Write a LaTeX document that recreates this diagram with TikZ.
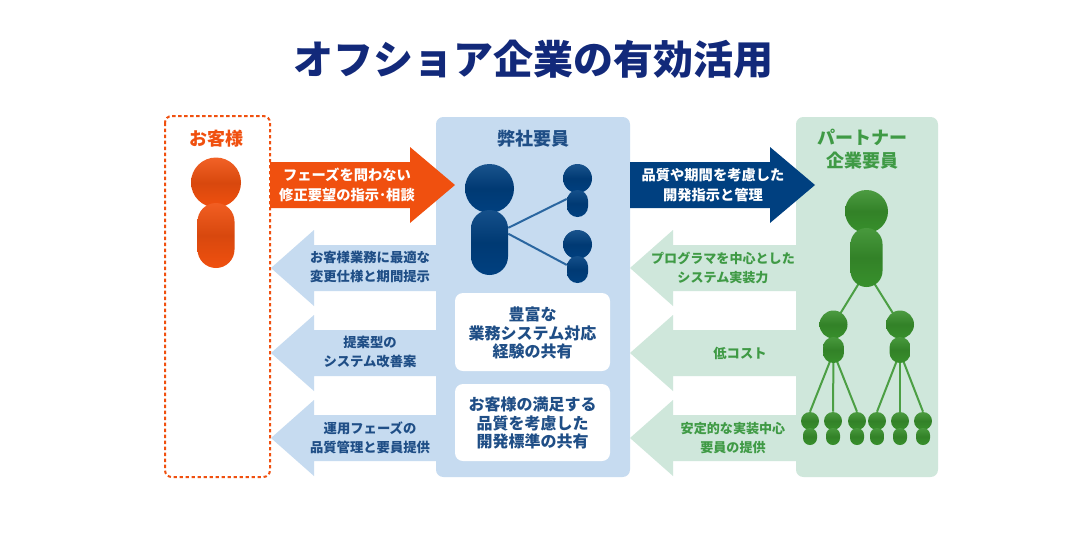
\documentclass[tikz,border=0pt]{standalone}
\usepackage{fontspec}
\setmainfont{Noto Sans CJK JP}
\usetikzlibrary{positioning}
\definecolor{orangemain}{HTML}{F0500F}
\definecolor{navymain}{HTML}{004080}
\definecolor{navytext}{HTML}{1F4E86}
\definecolor{navylink}{HTML}{2A66A0}
\definecolor{greenmain}{HTML}{38902C}
\definecolor{greenlink}{HTML}{4C9F44}
\definecolor{greentext}{HTML}{3F9A45}
\definecolor{bluepanel}{HTML}{C6DBF0}
\definecolor{greenpanel}{HTML}{CFE7DB}
\definecolor{titlecol}{HTML}{12297A}
\pgfdeclarelayer{back}
\pgfsetlayers{back,main}
\tikzset{
  panel/.style={fill=#1,rounded corners=5.5pt},
  whitebox/.style={fill=white,rounded corners=6pt},
  link/.style={draw=#1,line width=1.5pt},
  lab/.style={align=center,font=\bfseries\fontsize{#1}{14pt}\selectfont,inner sep=0pt},
}
% name, x, head y, head size, body width, body y, body height, colour
\newcommand{\person}[8]{%
  \node[circle,inner sep=0pt,minimum size=#4*0.75pt,top color=#8!90!white,bottom color=#8,middle color=#8!90!black] (#1head) at (#2,#3) {};
  \node[inner sep=0pt,minimum width=#5*0.75pt,minimum height=#7*0.75pt,rounded corners=0.375*#5 pt,top color=#8!92!white,bottom color=#8,middle color=#8!90!black] (#1body) at (#2,#6) {};
  \coordinate (#1hub) at (#2,#6+#7/2-#5/2);
}
% base of shaft, base of head, tip, y, colour
\newcommand{\bigarrow}[5]{%
  \fill[#5] (#1,#4-23) -- (#2,#4-23) -- (#2,#4-38) -- (#3,#4) -- (#2,#4+38) -- (#2,#4+23) -- (#1,#4+23) -- cycle;
}
\begin{document}
\begin{tikzpicture}[x=0.75pt,y=-0.75pt]
  \useasboundingbox (0,0) rectangle (1078,558);
  \begin{pgfonlayer}{back}
    \fill[white] (0,0) rectangle (1078,558);
    \fill[panel=bluepanel] (436,117) rectangle (630,477);
    \fill[panel=greenpanel] (796,117) rectangle (938,477);
  \end{pgfonlayer}
  \node[font=\bfseries\fontsize{30pt}{34pt}\selectfont,text=titlecol,inner sep=0pt] (title) at (533,59) {オフショア企業の有効活用};
  \draw[orangemain,line width=1.5pt,dash pattern=on 2.5pt off 2pt,rounded corners=5pt] (165,116) rectangle (270,477);

  % arrows
  \bigarrow{270}{410}{455}{185}{orangemain}
  \bigarrow{630}{770}{815}{185}{navymain}
  \foreach \yy in {268,353,438} {
    \bigarrow{437}{314}{271}{\yy}{bluepanel}
    \bigarrow{797}{673}{630}{\yy}{greenpanel}
  }

  % headings
  \node[lab=13.5pt,text=orangemain] (customer) at (216,139) {お客様};
  \node[lab=13.5pt,text=navytext] (company) at (533,139) {弊社要員};
  \node[lab=13.5pt,text=greentext,align=center] (partner) at (862,149) {パートナー\\[3pt]企業要員};

  % arrow labels
  \node[lab=10.7pt,text=white] (phase) at (347,185) {フェーズを問わない\\[1pt]修正要望の指示･相談};
  \node[lab=10.7pt,text=white] (quality) at (713,185) {品質や期間を考慮した\\[1pt]開発指示と管理};
  \node[lab=10pt,text=navytext] (spec) at (370,267) {お客様業務に最適な\\変更仕様と期間提示};
  \node[lab=10pt,text=navytext] (proposal) at (370,352) {提案型の\\システム改善案};
  \node[lab=10pt,text=navytext] (operation) at (370,438) {運用フェーズの\\品質管理と要員提供};
  \node[lab=9.8pt,text=greentext] (program) at (723,268) {プログラマを中心とした\\システム実装力};
  \node[lab=10pt,text=greentext] (cost) at (740,353) {低コスト};
  \node[lab=9.8pt,text=greentext] (stable) at (733,438) {安定的な実装中心\\要員の提供};

  % white boxes
  \fill[whitebox] (455,293) rectangle (610,371);
  \fill[whitebox] (455,384) rectangle (610,461);
  \node[lab=12pt,text=navytext] (share) at (532.5,333) {豊富な\\業務システム対応\\経験の共有};
  \node[lab=12pt,text=navytext] (standard) at (532.5,423) {お客様の満足する\\品質を考慮した\\開発標準の共有};

  % people
  \person{cus}{216}{182.5}{50}{37}{235.5}{65}{orangemain}
  \person{own}{489.5}{188.5}{49}{37}{242.5}{65}{navymain}
  \person{ownA}{577.5}{178.5}{29}{21}{203.5}{27}{navymain}
  \person{ownB}{577.5}{244.5}{29}{21}{269.5}{27}{navymain}
  \person{par}{866.5}{211.5}{43}{32}{257.5}{59}{greenmain}
  \foreach \nm/\xx in {parA/833.5,parB/900} {
    \person{\nm}{\xx}{324.5}{28}{21}{350}{26}{greenmain}
  }
  \foreach \nm/\xx in {lo1/810,lo2/833,lo3/857,lo4/877,lo5/900,lo6/923} {
    \person{\nm}{\xx}{421}{18}{14}{436.5}{17}{greenmain}
  }

  % links
  \begin{pgfonlayer}{back}
    \draw[link=navylink] (ownbody.38) -- (ownAbody.157);
    \draw[link=navylink] (ownbody.25) -- (ownBbody.157);
    \foreach \nm in {parA,parB}
      \draw[link=greenlink] (parhub) -- (\nm head.center);
    \foreach \up/\lo in {parA/lo1,parA/lo2,parA/lo3,parB/lo4,parB/lo5,parB/lo6}
      \draw[link=greenlink] (\up hub) -- (\lo head.north);
  \end{pgfonlayer}
\end{tikzpicture}
\end{document}
